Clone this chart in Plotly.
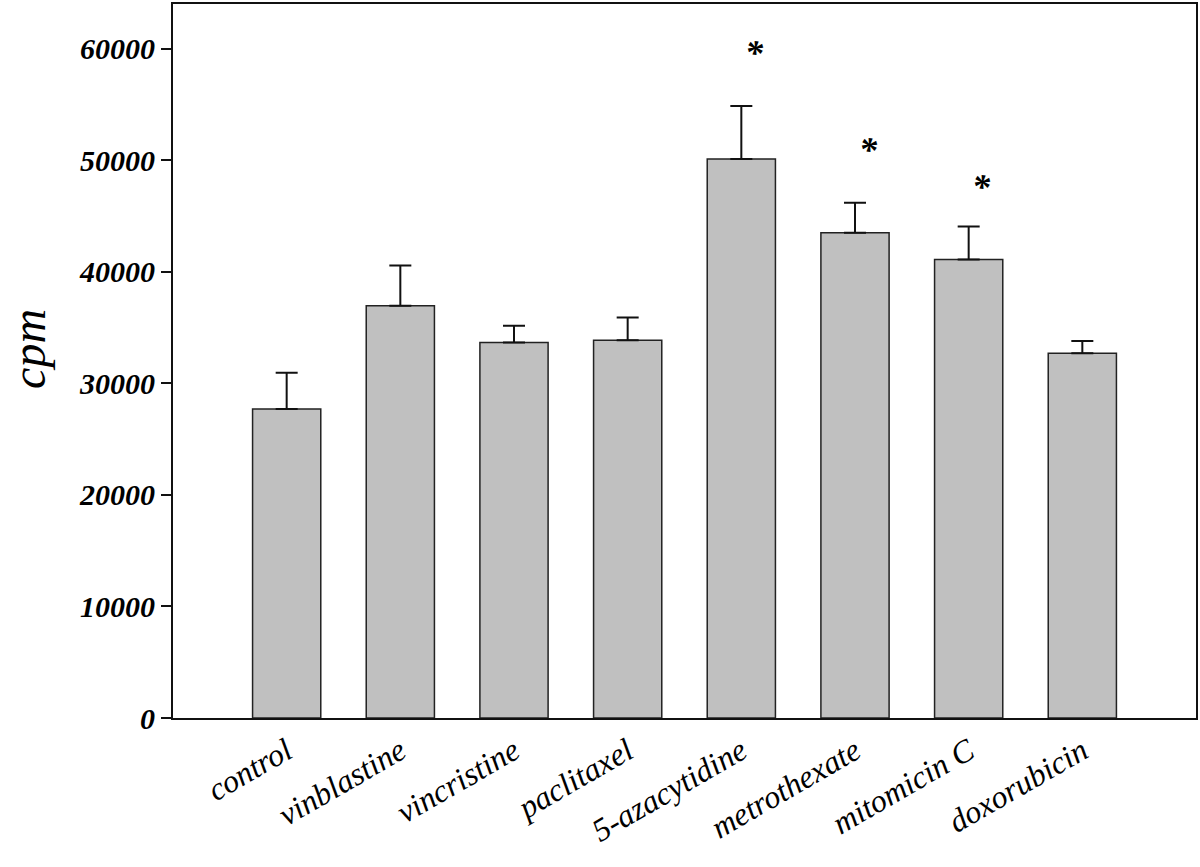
import plotly.graph_objects as go

categories = ["control", "vinblastine", "vincristine", "paclitaxel",
              "5-azacytidine", "metrothexate", "mitomicin <i>C</i>", "doxorubicin"]
means = [27700, 36950, 33650, 33850, 50100, 43500, 41100, 32700]
errors = [3250, 3600, 1520, 2050, 4750, 2680, 2950, 1100]
star_cats = [5, 6, 7]
star_y = [59800, 51100, 47800]
yticks = [0, 10000, 20000, 30000, 40000, 50000, 60000]

pos = list(range(1, len(categories) + 1))
serif = "Liberation Serif"

fig = go.Figure()
fig.add_trace(go.Bar(
    x=pos, y=means, width=0.6,
    marker=dict(color="#c0c0c0", line=dict(color="#222222", width=1.5)),
    error_y=dict(type="data", symmetric=False, array=errors,
                 arrayminus=[0] * len(errors), color="#111111",
                 thickness=2, width=11),
    showlegend=False,
))

annotations = []
for c, yv in zip(star_cats, star_y):
    annotations.append(dict(x=c, y=yv, xref="x", yref="y", text="<b><i>*</i></b>",
                            showarrow=False, xshift=13, yshift=-2,
                            font=dict(family=serif, size=36, color="black")))
annotations.append(dict(x=-0.142, y=0.5166, xref="paper", yref="paper",
                        text="<i>cpm</i>", textangle=-90, showarrow=False,
                        xanchor="center", yanchor="middle",
                        font=dict(family=serif, size=48, color="black")))

fig.update_layout(
    width=1200, height=867,
    margin=dict(l=173, r=4, t=2, b=149),
    plot_bgcolor="white", paper_bgcolor="white",
    annotations=annotations,
    xaxis=dict(range=[0, 9], tickmode="array", tickvals=pos,
               ticktext=["<i>%s</i>" % c for c in categories],
               tickangle=-30, ticks="", showgrid=False, zeroline=False,
               showline=True, linecolor="#111111", linewidth=2, mirror=True,
               tickfont=dict(family=serif, size=32, color="black")),
    yaxis=dict(range=[0, 64000], tickmode="array", tickvals=yticks,
               ticktext=["<b><i>%d</i></b>" % v for v in yticks],
               ticks="outside", ticklen=10, tickwidth=2, tickcolor="#111111",
               showgrid=False, zeroline=False,
               showline=True, linecolor="#111111", linewidth=2, mirror=True,
               tickfont=dict(family=serif, size=30, color="black")),
)

fig.write_html("out.html", config={"displayModeBar": False},
               post_script="document.body.style.margin='0';document.body.style.padding='0';")
